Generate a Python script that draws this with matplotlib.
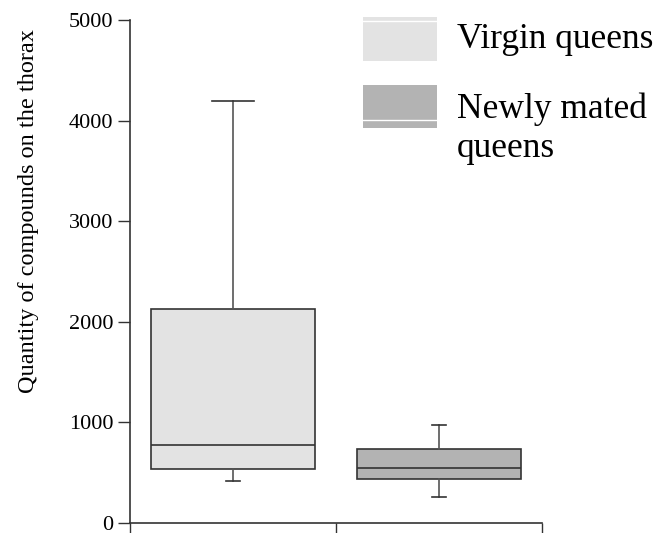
import matplotlib.pyplot as plt
from matplotlib.patches import Rectangle

plt.rcParams['font.family'] = ['Liberation Serif', 'DejaVu Serif']

groups = ['Virgin queens', 'Newly mated queens']
q1 = [537, 437]
median = [775, 547]
q3 = [2127, 735]
whislo = [418, 258]
whishi = [4195, 974]
fills = ['#e3e3e3', '#b3b3b3']

fig = plt.figure(figsize=(6.58, 5.33), dpi=100)
ax = fig.add_axes([130 / 658, 10 / 533, 412 / 658, 503 / 533])

stats = []
for i in range(len(groups)):
    stats.append(dict(label=groups[i], q1=q1[i], med=median[i], q3=q3[i],
                      whislo=whislo[i], whishi=whishi[i], fliers=[]))

bp = ax.bxp(stats, positions=[0.5, 1.5], widths=0.8, patch_artist=True,
            showfliers=False, capwidths=[0.07, 0.07],
            boxprops=dict(edgecolor='#333333', linewidth=1.2),
            medianprops=dict(color='#333333', linewidth=1.2),
            whiskerprops=dict(color='#555555', linewidth=1.2),
            capprops=dict(color='#333333', linewidth=1.2))
for patch, c in zip(bp['boxes'], fills):
    patch.set_facecolor(c)
# the upper cap of the first box is wider
bp['caps'][1].set_xdata([0.5 - 0.1, 0.5 + 0.1])

ax.set_xlim(0, 2)
ax.set_ylim(0, 5000)
ax.set_xticks([0, 1, 2])
ax.set_xticklabels([])
ax.set_yticks([0, 1000, 2000, 3000, 4000, 5000])
ax.tick_params(axis='y', direction='out', length=9, width=1, pad=3, labelsize=16,
               colors='#333333', labelcolor='black')
ax.tick_params(axis='x', direction='out', length=10, width=1, colors='#333333')
for s in ['top', 'right']:
    ax.spines[s].set_visible(False)
for s in ['left', 'bottom']:
    ax.spines[s].set_color('#333333')
    ax.spines[s].set_linewidth(1.2)
ax.set_ylabel('Quantity of compounds on the thorax', fontsize=17.5)
ax.yaxis.set_label_coords(-0.22, 0.62)

# legend boxes drawn in figure pixels
for (y0, y1, wl), c, lab, ty in zip([(17, 61, 21), (85, 128, 120)], fills,
                                    ['Virgin queens', 'Newly mated\nqueens'], [40, 129]):
    fig.patches.append(Rectangle((363 / 658, 1 - y1 / 533), 74 / 658, (y1 - y0) / 533,
                                 transform=fig.transFigure, facecolor=c, edgecolor='none'))
    fig.lines.append(plt.Line2D([363 / 658, 437 / 658], [1 - wl / 533, 1 - wl / 533],
                                transform=fig.transFigure, color='white', linewidth=1))
    fig.text(457 / 658, 1 - ty / 533, lab, fontsize=25.5, va='center', ha='left',
             linespacing=1.25)

fig.savefig('out.png', dpi=100)
